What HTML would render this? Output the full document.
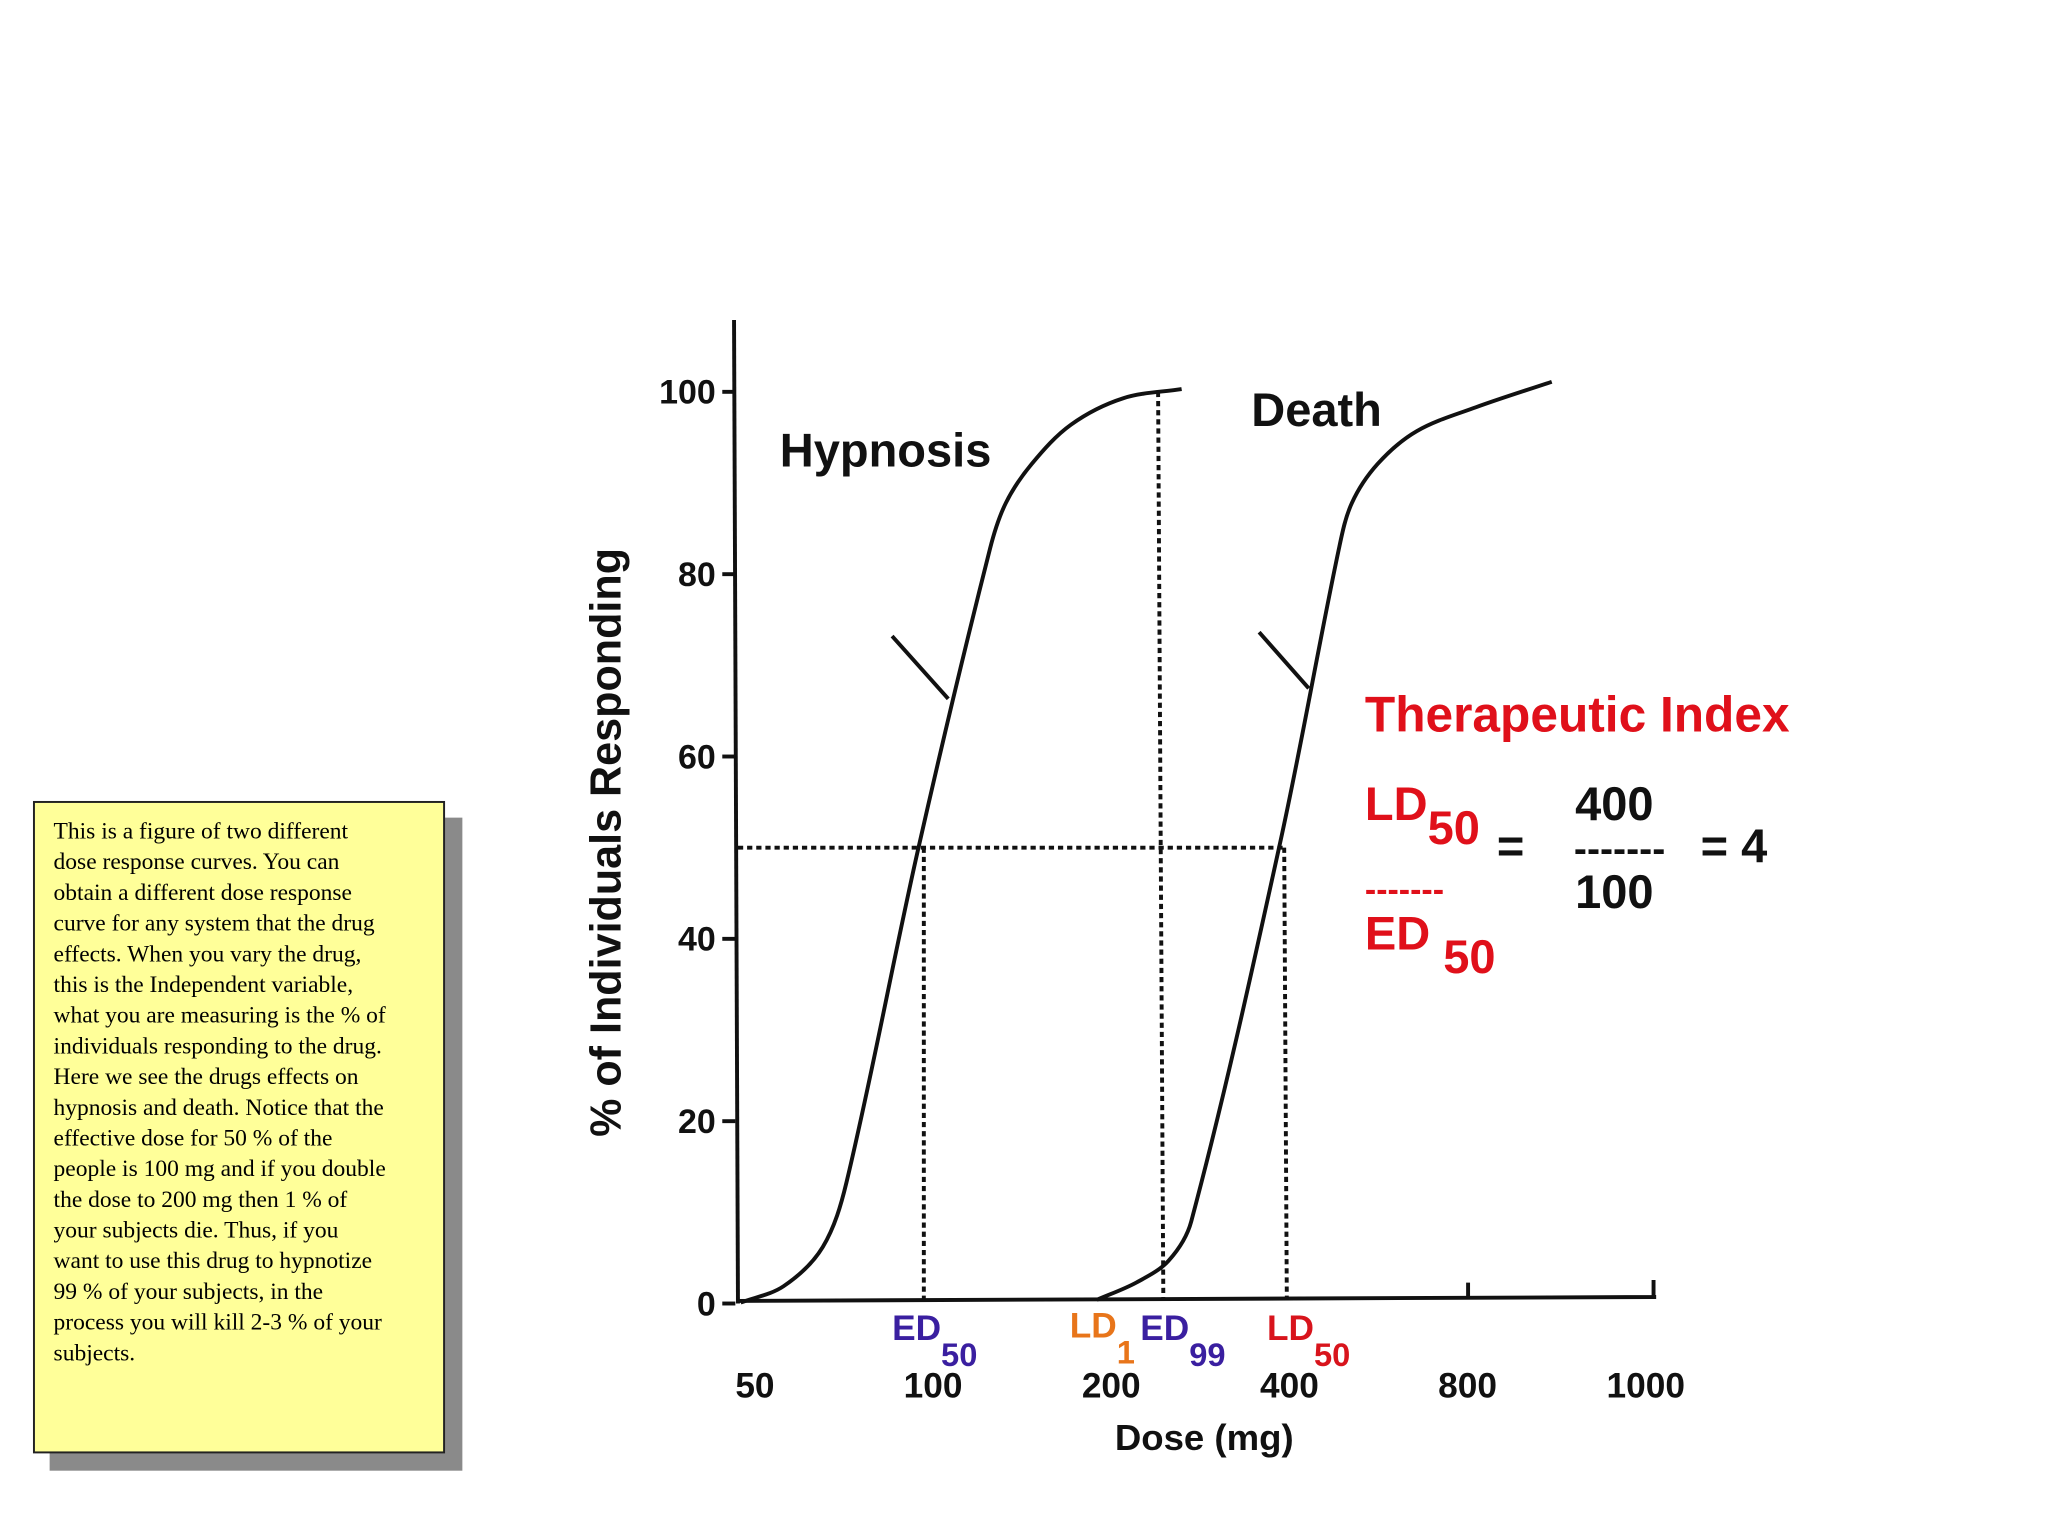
<!DOCTYPE html>
<html><head><meta charset="utf-8"><style>
html,body{margin:0;padding:0;background:#fff;}
svg{display:block;}
.t{font-family:"Liberation Sans",sans-serif;font-weight:bold;}
</style></head><body>
<svg id="chart" width="2048" height="1536" viewBox="0 0 1568 1176" xmlns="http://www.w3.org/2000/svg">
<rect x="38" y="626" width="316" height="500" fill="#8a8a8a"/>
<rect x="26" y="614" width="314" height="498" fill="#ffff99" stroke="#222" stroke-width="1.5"/>
<text font-family="Liberation Serif, serif" font-size="18" fill="#000">
<tspan x="41" y="642">This is a figure of two different</tspan>
<tspan x="41" y="665.5">dose response curves.  You can</tspan>
<tspan x="41" y="689">obtain a different dose response</tspan>
<tspan x="41" y="712.5">curve for any system that the drug</tspan>
<tspan x="41" y="736">effects.  When you vary the drug,</tspan>
<tspan x="41" y="759.5">this is the Independent variable,</tspan>
<tspan x="41" y="783">what you are measuring is the % of</tspan>
<tspan x="41" y="806.5">individuals responding to the drug.</tspan>
<tspan x="41" y="830">Here we see the drugs effects on</tspan>
<tspan x="41" y="853.5">hypnosis and death.  Notice that the</tspan>
<tspan x="41" y="877">effective dose for 50 % of the</tspan>
<tspan x="41" y="900.5">people is 100 mg and if you double</tspan>
<tspan x="41" y="924">the dose to 200 mg then 1 % of</tspan>
<tspan x="41" y="947.5">your subjects die.  Thus, if you</tspan>
<tspan x="41" y="971">want to use this drug to hypnotize</tspan>
<tspan x="41" y="994.5">99 % of your subjects, in the</tspan>
<tspan x="41" y="1018">process you will kill 2-3 % of your</tspan>
<tspan x="41" y="1041.5">subjects.</tspan>
</text>
<g id="plot"></g>
<text class="t" x="597" y="357" font-size="36" fill="#111">Hypnosis</text>
<text class="t" x="958" y="326" font-size="36" fill="#111">Death</text>
<text class="t" transform="translate(475,645) rotate(-90)" text-anchor="middle" font-size="33" fill="#111">% of Individuals Responding</text>
<text class="t" x="922" y="1110" text-anchor="middle" font-size="28" fill="#111" font-weight="normal">Dose (mg)</text>
<g class="t" font-size="27">
<text x="683" y="1026" fill="#3a1fa0">ED<tspan dy="20" font-size="25">50</tspan></text>
<text x="819" y="1024" fill="#e8751a">LD<tspan dy="20" font-size="25">1</tspan></text>
<text x="873" y="1026" fill="#3a1fa0">ED<tspan dy="20" font-size="25">99</tspan></text>
<text x="970" y="1026" fill="#d8141c">LD<tspan dy="20" font-size="25">50</tspan></text>
</g>
<g class="t">
<text x="1045" y="560" font-size="38" fill="#e0101a">Therapeutic Index</text>
<text x="1045" y="628" font-size="36" fill="#e0101a">LD<tspan dy="18">50</tspan></text>
<text x="1146" y="660" font-size="36" fill="#111">=</text>
<text x="1236" y="628" font-size="36" fill="#111" text-anchor="middle">400</text>
<text x="1240" y="660" font-size="30" fill="#111" text-anchor="middle">-------</text>
<text x="1236" y="695" font-size="36" fill="#111" text-anchor="middle">100</text>
<text x="1302" y="660" font-size="36" fill="#111">= 4</text>
<text x="1045" y="690" font-size="26" fill="#e0101a">-------</text>
<text x="1045" y="727" font-size="36" fill="#e0101a">ED <tspan dy="18">50</tspan></text>
</g>
</svg>
<script>
const yTicks=[0,20,40,60,80,100];
const xTickLabels=["50","100","200","400","800","1000"];
const hypDose=[47.3,55.9,65.1,71.4,94.4,124.8,132.7,146.8,171,209.6,263];
const hypPct=[0.1,1.9,6.2,13.3,49.9,82.8,87.8,92.1,96.4,99.3,100.3];
const deathDose=[189,220.5,250,273,386,485,510,564,657,826,1110];
const deathPct=[0.4,2.3,4.7,9.0,50.6,82.8,87.8,92.1,95.7,98.3,101.1];
const ed50=95, ed99=240, ld50=392;
const NS="http://www.w3.org/2000/svg";
const g=document.getElementById('plot');
const yS=v=>998-6.98*v;
const xS=d=>578+136.4*Math.log2(d/50);
const xTick=i=>578+136.4*i;
function el(t,a){const e=document.createElementNS(NS,t);for(const k in a)e.setAttribute(k,a[k]);g.appendChild(e);return e;}
let e=el('line',{x1:562,y1:245,x2:565,y2:998,stroke:'#111','stroke-width':3});


e=el('path',{d:'M565 996 L1268 993 M1124 993 L1124 982 M1266 993 L1266 980',stroke:'#111','stroke-width':3,fill:'none'});


yTicks.forEach(v=>{
 let l=el('line',{x1:553,y1:yS(v),x2:563,y2:yS(v),stroke:'#111','stroke-width':3});
 
 
 let t=el('text',{x:548,y:yS(v)+9,'text-anchor':'end','font-size':26,'font-family':'Liberation Sans,sans-serif','font-weight':'bold',fill:'#111'});
 t.textContent=v;
 
 
});
xTickLabels.forEach((s,i)=>{
 let t=el('text',{x:xTick(i),y:1070,'text-anchor':'middle','font-size':27,'font-family':'Liberation Sans,sans-serif','font-weight':'bold',fill:'#111'});
 t.textContent=s;
 
 
});
function curve(ds,ps){
 const p=ds.map((d,i)=>[xS(d),yS(ps[i])]);
 const n=p.length;
 const tan=p.map((q,i)=>{
  const a=p[Math.max(0,i-1)],b=p[Math.min(n-1,i+1)];
  const dx=b[0]-a[0],dy=b[1]-a[1],L=Math.hypot(dx,dy)||1;
  return [dx/L,dy/L];
 });
 let s='M'+p[0][0]+' '+p[0][1];
 for(let i=0;i<n-1;i++){
  const p1=p[i],p2=p[i+1];
  const L=Math.hypot(p2[0]-p1[0],p2[1]-p1[1])/3;
  s+=` C${p1[0]+tan[i][0]*L} ${p1[1]+tan[i][1]*L} ${p2[0]-tan[i+1][0]*L} ${p2[1]-tan[i+1][1]*L} ${p2[0]} ${p2[1]}`;
 }
 return s;
}
e=el('path',{d:curve(hypDose,hypPct),stroke:'#111','stroke-width':3,fill:'none'});


e=el('path',{d:curve(deathDose,deathPct),stroke:'#111','stroke-width':3,fill:'none'});


const dash={stroke:'#111','stroke-width':3,'stroke-dasharray':'4 3',fill:'none'};
e=el('line',Object.assign({x1:565,y1:yS(50),x2:xS(ld50),y2:yS(50)},dash));


e=el('line',Object.assign({x1:xS(ed50)+3,y1:yS(50),x2:xS(ed50)+3,y2:995},dash));


e=el('line',Object.assign({x1:xS(ed99),y1:yS(100),x2:xS(ed99)+4,y2:995},dash));


e=el('line',Object.assign({x1:xS(ld50),y1:yS(50),x2:xS(ld50)+2,y2:995},dash));


e=el('path',{d:'M683 487 L726 535 M964 484 L1002 527',stroke:'#111','stroke-width':3,fill:'none'});


</script>
</body></html>
